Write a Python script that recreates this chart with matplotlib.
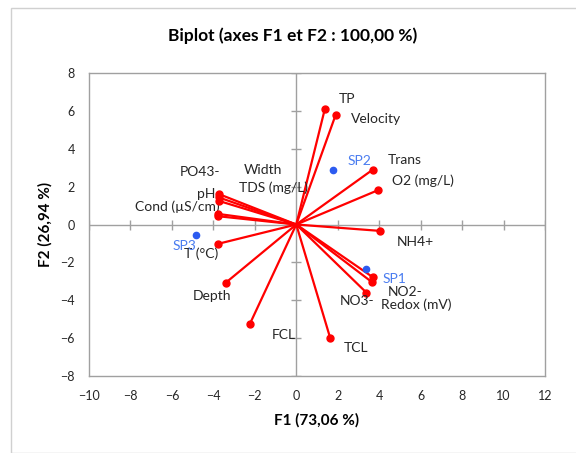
import matplotlib
matplotlib.use("Agg")
import matplotlib.pyplot as plt
from matplotlib.patches import Rectangle

plt.rcParams['font.family'] = ['Lato', 'DejaVu Sans']

# variables (red vectors)
var_names = ['TP', 'Velocity', 'Trans', 'O2 (mg/L)', 'NH4+', 'Redox (mV)', 'NO2-',
             'NO3-', 'TCL', 'FCL', 'Depth', 'T (°C)', 'Cond (µS/cm)', 'TDS (mg/L)',
             'Width', 'pH', 'PO43-']
var_f1 = [1.38, 1.90, 3.70, 3.93, 4.06, 3.71, 3.64, 3.38, 1.63, -2.23, -3.39, -3.80,
          -3.79, -3.77, -3.74, -3.73, -3.71]
var_f2 = [6.12, 5.80, 2.91, 1.81, -0.34, -2.80, -3.04, -3.60, -5.98, -5.24, -3.07, -1.03,
          0.44, 0.56, 1.25, 1.43, 1.60]

# observations (blue points)
obs_names = ['SP1', 'SP2', 'SP3']
obs_f1 = [3.38, 1.78, -4.85]
obs_f2 = [-2.33, 2.87, -0.57]

x_ticks = list(range(-10, 13, 2))
y_ticks = list(range(-8, 9, 2))

# where each label sits (layout only)
var_label_pos = {
    'TP': (2.45, 6.63, 'center'), 'Velocity': (2.62, 5.56, 'left'),
    'Trans': (4.39, 3.40, 'left'), 'O2 (mg/L)': (4.6, 2.31, 'left'),
    'NH4+': (4.84, -0.94, 'left'), 'Redox (mV)': (4.09, -4.22, 'left'),
    'NO2-': (4.41, -3.55, 'left'), 'NO3-': (2.95, -4.04, 'center'),
    'TCL': (2.88, -6.56, 'center'), 'FCL': (-0.03, -5.84, 'right'),
    'Depth': (-4.07, -3.79, 'center'), 'T (°C)': (-4.6, -1.57, 'center'),
    'Cond (µS/cm)': (-3.68, 0.93, 'right'), 'TDS (mg/L)': (-1.12, 1.97, 'center'),
    'Width': (-1.6, 2.90, 'center'), 'pH': (-3.92, 1.64, 'right'),
    'PO43-': (-4.64, 2.77, 'center'),
}
obs_label_pos = {'SP1': (4.15, -2.91, 'left'), 'SP2': (3.07, 3.35, 'center'),
                 'SP3': (-5.42, -1.13, 'center')}

fig = plt.figure(figsize=(5.76, 4.53), dpi=100)
fig.patches.append(Rectangle((11 / 576, 0), 1, 1 - 8 / 453, transform=fig.transFigure,
                             fill=False, edgecolor='#d0d0d0', linewidth=1))
ax = fig.add_axes([89 / 576, 1 - 375.7 / 453, (545 - 89) / 576, (375.7 - 73.3) / 453])

grey = '#a0a0a0'
ax.axhline(0, color=grey, linewidth=1, zorder=1)
ax.axvline(0, color=grey, linewidth=1, zorder=1)
ax.plot(x_ticks, [0] * len(x_ticks), linestyle='none', marker='|', markersize=7,
        color=grey, markeredgewidth=1, zorder=1)
ax.plot([0] * len(y_ticks), y_ticks, linestyle='none', marker='_', markersize=7,
        color=grey, markeredgewidth=1, zorder=1)

for name, x, y in zip(var_names, var_f1, var_f2):
    ax.plot([0, x], [0, y], color='red', linewidth=1.6, zorder=2)
    ax.plot(x, y, 'o', color='red', markersize=5, zorder=3)
    lx, ly, ha = var_label_pos[name]
    ax.text(lx, ly, name, fontsize=10, ha=ha, va='center', color='#262626')

ax.plot(obs_f1, obs_f2, 'o', color='#2c5bf0', markersize=4.5, linestyle='none', zorder=3)
for name in obs_names:
    lx, ly, ha = obs_label_pos[name]
    ax.text(lx, ly, name, fontsize=10, ha=ha, va='center', color='#4a7cf0')

ax.set_xlim(-10, 12)
ax.set_ylim(-8, 8)
ax.set_xticks(x_ticks)
ax.set_yticks(y_ticks)
ax.tick_params(length=0, labelsize=9, labelcolor='#262626', pad=10)
for s in ax.spines.values():
    s.set_color(grey)
    s.set_linewidth(1)

ax.set_xlabel('F1 (73,06 %)', fontsize=11, fontweight='bold', labelpad=8)
ax.set_ylabel('F2 (26,94 %)', fontsize=11, fontweight='bold', labelpad=6)
fig.text(293 / 576, 1 - 36 / 453, 'Biplot (axes F1 et F2 : 100,00 %)', fontsize=12.5,
         fontweight='bold', ha='center', va='center')

fig.savefig('out.png', dpi=100)
